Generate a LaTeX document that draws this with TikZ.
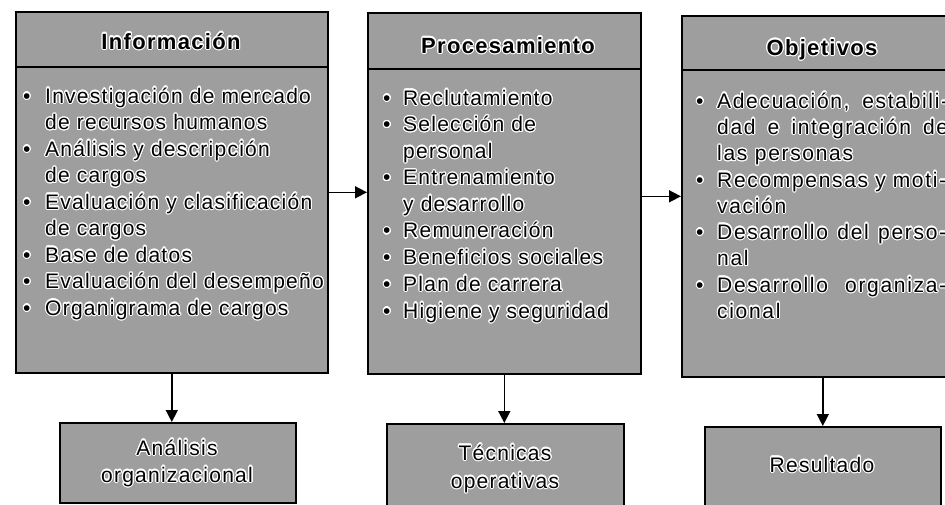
\documentclass[tikz,border=0pt]{standalone}
\usepackage{fontspec}
\setmainfont{Liberation Sans}[LetterSpace=6.0]
\usepackage{contour}
\contourlength{1.1pt}
\contournumber{20}
\usetikzlibrary{arrows.meta}
\newcommand{\ct}[1]{\contour{white}{#1}}
\newcommand{\wide}{\addfontfeatures{LetterSpace=8.0}}
\tikzset{
  panel/.style={draw=black, line width=1.6pt, fill=black!38, anchor=north west, inner sep=0pt},
  divider/.style={draw=black, line width=1.6pt},
  item/.style={anchor=base west, inner sep=0pt, text=black, font=\fontsize{21}{26}\selectfont},
  bul/.style={anchor=base west, inner sep=0pt, text=black, font=\fontsize{21}{26}\selectfont},
  head/.style={anchor=base, inner sep=0pt, text=black, font=\fontsize{22}{26}\selectfont\bfseries},
  label/.style={anchor=base, inner sep=0pt, text=black, font=\fontsize{21}{26}\selectfont},
  arr/.style={draw=black, line width=1.5pt, -{Triangle[length=12pt,width=12pt]}},
}
\begin{document}
\begin{tikzpicture}[x=1pt,y=-1pt]
\useasboundingbox (0,0) rectangle (945,504);
\clip (0,0) rectangle (945,504);
\fill[white] (0,0) rectangle (945,504);

% main panels
\node[panel, minimum width=312pt, minimum height=361pt] (info) at (15,11) {};
\node[panel, minimum width=273pt, minimum height=361pt] (proc) at (367,12) {};
\node[panel, minimum width=282pt, minimum height=361pt] (obj) at (681,15) {};

% header dividers
\draw[divider] (15,67) -- (327,67);
\draw[divider] (367,69) -- (640,69);
\draw[divider] (681,70) -- (963,70);

% bottom panels
\node[panel, minimum width=236pt, minimum height=80pt] (ana) at (59,422) {};
\node[panel, minimum width=237pt, minimum height=85pt] (tec) at (386,423) {};
\node[panel, minimum width=236pt, minimum height=82pt] (res) at (704,426) {};

% headers
\node[head] (hinfo) at (171,49) {\ct{Información}};
\node[head] (hproc) at (508,53) {\ct{Procesamiento}};
\node[head] (hobj) at (822,55) {\ct{Objetivos}};

% Información items
\node[bul] (ib1) at (23,103) {\ct{\textbullet}};
\node[item] (i1) at (45,103) {\ct{Investigación de mercado}};
\node[item] (i2) at (45,129.5) {\ct{de recursos humanos}};
\node[bul] (ib3) at (23,156) {\ct{\textbullet}};
\node[item] (i3) at (45,156) {\ct{Análisis y descripción}};
\node[item] (i4) at (45,182.5) {\ct{de cargos}};
\node[bul] (ib5) at (23,209) {\ct{\textbullet}};
\node[item] (i5) at (45,209) {\ct{Evaluación y clasificación}};
\node[item] (i6) at (45,235.5) {\ct{de cargos}};
\node[bul] (ib7) at (23,262) {\ct{\textbullet}};
\node[item] (i7) at (45,262) {\ct{Base de datos}};
\node[bul] (ib8) at (23,288.5) {\ct{\textbullet}};
\node[item] (i8) at (45,288.5) {\ct{Evaluación del desempeño}};
\node[bul] (ib9) at (23,315) {\ct{\textbullet}};
\node[item] (i9) at (45,315) {\ct{Organigrama de cargos}};

% Procesamiento items
\node[bul] (pb1) at (383,105) {\ct{\textbullet}};
\node[item] (p1) at (403,105) {\ct{Reclutamiento}};
\node[bul] (pb2) at (383,131.6) {\ct{\textbullet}};
\node[item] (p2) at (403,131.6) {\ct{Selección de}};
\node[item] (p3) at (403,158) {\ct{personal}};
\node[bul] (pb4) at (383,184.8) {\ct{\textbullet}};
\node[item] (p4) at (403,184.8) {\ct{Entrenamiento}};
\node[item] (p5) at (403,211) {\ct{y desarrollo}};
\node[bul] (pb6) at (383,237.9) {\ct{\textbullet}};
\node[item] (p6) at (403,237.9) {\ct{Remuneración}};
\node[bul] (pb7) at (383,264.6) {\ct{\textbullet}};
\node[item] (p7) at (403,264.6) {\ct{Beneficios sociales}};
\node[bul] (pb8) at (383,291) {\ct{\textbullet}};
\node[item] (p8) at (403,291) {\ct{Plan de carrera}};
\node[bul] (pb9) at (383,318) {\ct{\textbullet}};
\node[item] (p9) at (403,318) {\ct{Higiene y seguridad}};

% Objetivos items
\node[bul] (ob1) at (696,108) {\ct{\textbullet}};
\node[item] (o1) at (717,108) {\wide\ct{\makebox[231pt][s]{Adecuación, estabili-}}};
\node[item] (o2) at (717,134) {\wide\ct{\makebox[231pt][s]{dad e integración de}}};
\node[item] (o3) at (717,160.5) {\wide\ct{las personas}};
\node[bul] (ob4) at (696,187) {\ct{\textbullet}};
\node[item] (o4) at (717,187) {\wide\ct{\makebox[229pt][s]{Recompensas y moti-}}};
\node[item] (o5) at (717,213) {\wide\ct{vación}};
\node[bul] (ob6) at (696,239) {\ct{\textbullet}};
\node[item] (o6) at (717,239) {\wide\ct{\makebox[229pt][s]{Desarrollo del perso-}}};
\node[item] (o7) at (717,265.5) {\wide\ct{nal}};
\node[bul] (ob8) at (696,292) {\ct{\textbullet}};
\node[item] (o8) at (717,292) {\wide\ct{\makebox[229pt][s]{Desarrollo organiza-}}};
\node[item] (o9) at (717,318) {\wide\ct{cional}};

% bottom labels
\node[label] (l1) at (177,455) {\ct{Análisis}};
\node[label] (l2) at (177,482) {\ct{organizacional}};
\node[label] (l3) at (505,460) {\ct{Técnicas}};
\node[label] (l4) at (505,488) {\ct{operativas}};
\node[label] (l5) at (822,472) {\ct{Resultado}};

% connectors
\draw[arr] (info.east) -- (info.east -| proc.west);
\draw[arr] (proc.east |- obj.west) -- (obj.west);
\draw[arr] (info.south) -- (info.south |- ana.north);
\draw[arr] (proc.south) -- (proc.south |- tec.north);
\draw[arr] (obj.south) -- (obj.south |- res.north);
\end{tikzpicture}
\end{document}
